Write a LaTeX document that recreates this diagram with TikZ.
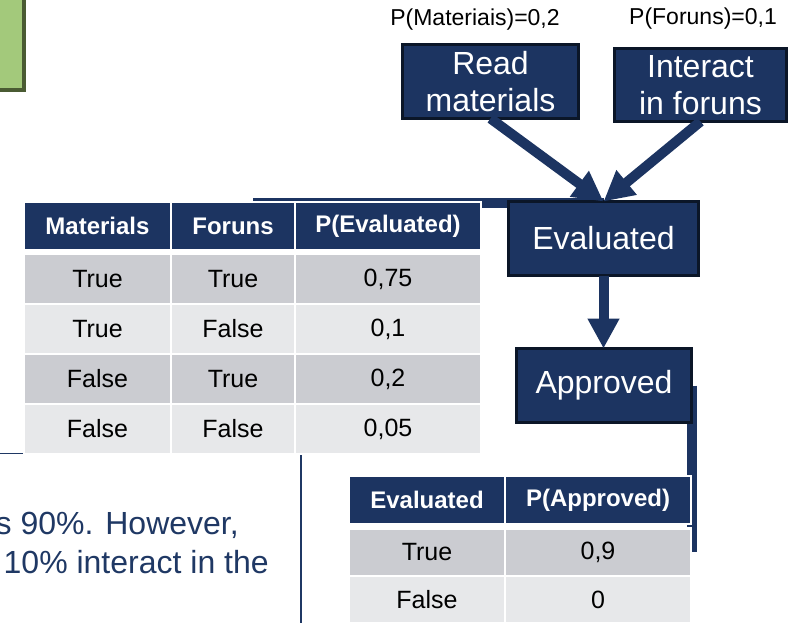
\documentclass[tikz,border=0pt]{standalone}
\usepackage{fontspec}
\setmainfont{Liberation Sans}
\usepackage{tikz}
\usetikzlibrary{arrows.meta,positioning,backgrounds}
\definecolor{BNNavy}{HTML}{1C3461}
\definecolor{BNEdge}{HTML}{0B1628}
\definecolor{BNText}{HTML}{1F3864}
\definecolor{BNGrayDark}{HTML}{CBCCD1}
\definecolor{BNGrayLight}{HTML}{E7E8EA}
\definecolor{BNGreen}{HTML}{A3C97B}
\definecolor{BNGreenEdge}{HTML}{4A5B33}
\tikzset{
  bnvar/.style={draw=BNEdge,fill=BNNavy,line width=3pt,text=white,
    align=center,inner sep=0pt,outer sep=0pt,font=\fontsize{32}{37}\selectfont},
  bnarrow/.style={-{Triangle[length=30pt,width=30pt]},line width=10pt,BNNavy},
  bnbar/.style={line width=10pt,BNNavy},
  bnprob/.style={font=\fontsize{23}{27}\selectfont,inner sep=0pt},
  cpthead/.style={draw=white,fill=BNNavy,line width=2.5pt,text=white,
    outer sep=0pt,inner sep=0pt,anchor=north west,
    font=\fontsize{24}{28}\selectfont\bfseries},
  cptdark/.style={draw=white,fill=BNGrayDark,line width=2.5pt,
    outer sep=0pt,inner sep=0pt,anchor=north west,
    font=\fontsize{25}{29}\selectfont},
  cptlight/.style={cptdark,fill=BNGrayLight},
  bodytext/.style={text=BNText,inner sep=0pt,anchor=base west,
    font=\fontsize{32}{39}\selectfont}
}

\begin{document}
\begin{tikzpicture}[x=1pt,y=-1pt]
  \useasboundingbox (0,0) rectangle (794,622);

  % slide note box, cut by the frame
  \node[draw=BNGreenEdge,fill=BNGreen,line width=4pt,outer sep=0pt,
    minimum width=80pt,minimum height=130pt,anchor=south east] (note) at (24,90) {};

  % network
  \node[bnprob] (pmat) at (475,20) {P(Materiais)=0,2};
  \node[bnprob] (pfor) at (703,19) {P(Foruns)=0,1};

  \node[bnvar,minimum width=176pt,minimum height=74pt] (read) at (490.5,81.5) {Read\\materials};
  \node[bnvar,minimum width=172pt,minimum height=73pt] (inter) at (700.5,85) {Interact\\in foruns};
  \node[bnvar,minimum width=190pt,minimum height=74pt] (eval) at (603.5,238.5) {Evaluated};
  \node[bnvar,minimum width=175pt,minimum height=74pt] (appr) at (604,385.5) {Approved};

  \draw[bnarrow] (read.south) -- (eval.north);
  \draw[bnarrow] (inter.south) -- (eval.north);
  \draw[bnarrow] (eval.south) -- (eval.south |- appr.north);

  % table for Evaluated
  \node[cpthead,minimum width=147pt,minimum height=48pt] (hm) at (24,202) {Materials};
  \node[cpthead,minimum width=124pt,minimum height=48pt] (hf) at (171,202) {Foruns};
  \node[cpthead,minimum width=186pt,minimum height=48pt] (he) at (295,202) {P(Evaluated)};

  \node[cptdark,minimum width=147pt,minimum height=50pt] (m1) at (24,254) {True};
  \node[cptdark,minimum width=124pt,minimum height=50pt] (f1) at (171,254) {True};
  \node[cptdark,minimum width=186pt,minimum height=50pt] (e1) at (295,254) {0,75};
  \node[cptlight,minimum width=147pt,minimum height=50pt] (m2) at (24,304) {True};
  \node[cptlight,minimum width=124pt,minimum height=50pt] (f2) at (171,304) {False};
  \node[cptlight,minimum width=186pt,minimum height=50pt] (e2) at (295,304) {0,1};
  \node[cptdark,minimum width=147pt,minimum height=50pt] (m3) at (24,354) {False};
  \node[cptdark,minimum width=124pt,minimum height=50pt] (f3) at (171,354) {True};
  \node[cptdark,minimum width=186pt,minimum height=50pt] (e3) at (295,354) {0,2};
  \node[cptlight,minimum width=147pt,minimum height=50pt] (m4) at (24,404) {False};
  \node[cptlight,minimum width=124pt,minimum height=50pt] (f4) at (171,404) {False};
  \node[cptlight,minimum width=186pt,minimum height=50pt] (e4) at (295,404) {0,05};

  % table for Approved
  \node[cpthead,minimum width=156pt,minimum height=48pt] (hv) at (349,476) {Evaluated};
  \node[cpthead,minimum width=186pt,minimum height=48pt] (ha) at (505,476) {P(Approved)};
  \node[cptdark,minimum width=156pt,minimum height=47.5pt] (v1) at (349,528.7) {True};
  \node[cptdark,minimum width=186pt,minimum height=47.5pt] (a1) at (505,528.7) {0,9};
  \node[cptlight,minimum width=156pt,minimum height=47.5pt] (v2) at (349,576.2) {False};
  \node[cptlight,minimum width=186pt,minimum height=47.5pt] (a2) at (505,576.2) {0};

  % text of the slide
  \node[bodytext] (txtA) at (-4.5,534) {s 90\%. However,};
  \node[bodytext] (txtB) at (3.5,573) {10\% interact in the};

  \begin{scope}[on background layer]
    \coordinate (barL) at (253,203);
    \coordinate (barB) at (691.5,552);
    \draw[bnbar] (barL) -- (barL -| eval.center);
    \draw[bnbar] (appr.east -| barB) -- (barB);
    \draw[BNText,line width=1.5pt] (-5,453.5) -- (301,453.5) -- (301,630);
  \end{scope}
\end{tikzpicture}
\end{document}
